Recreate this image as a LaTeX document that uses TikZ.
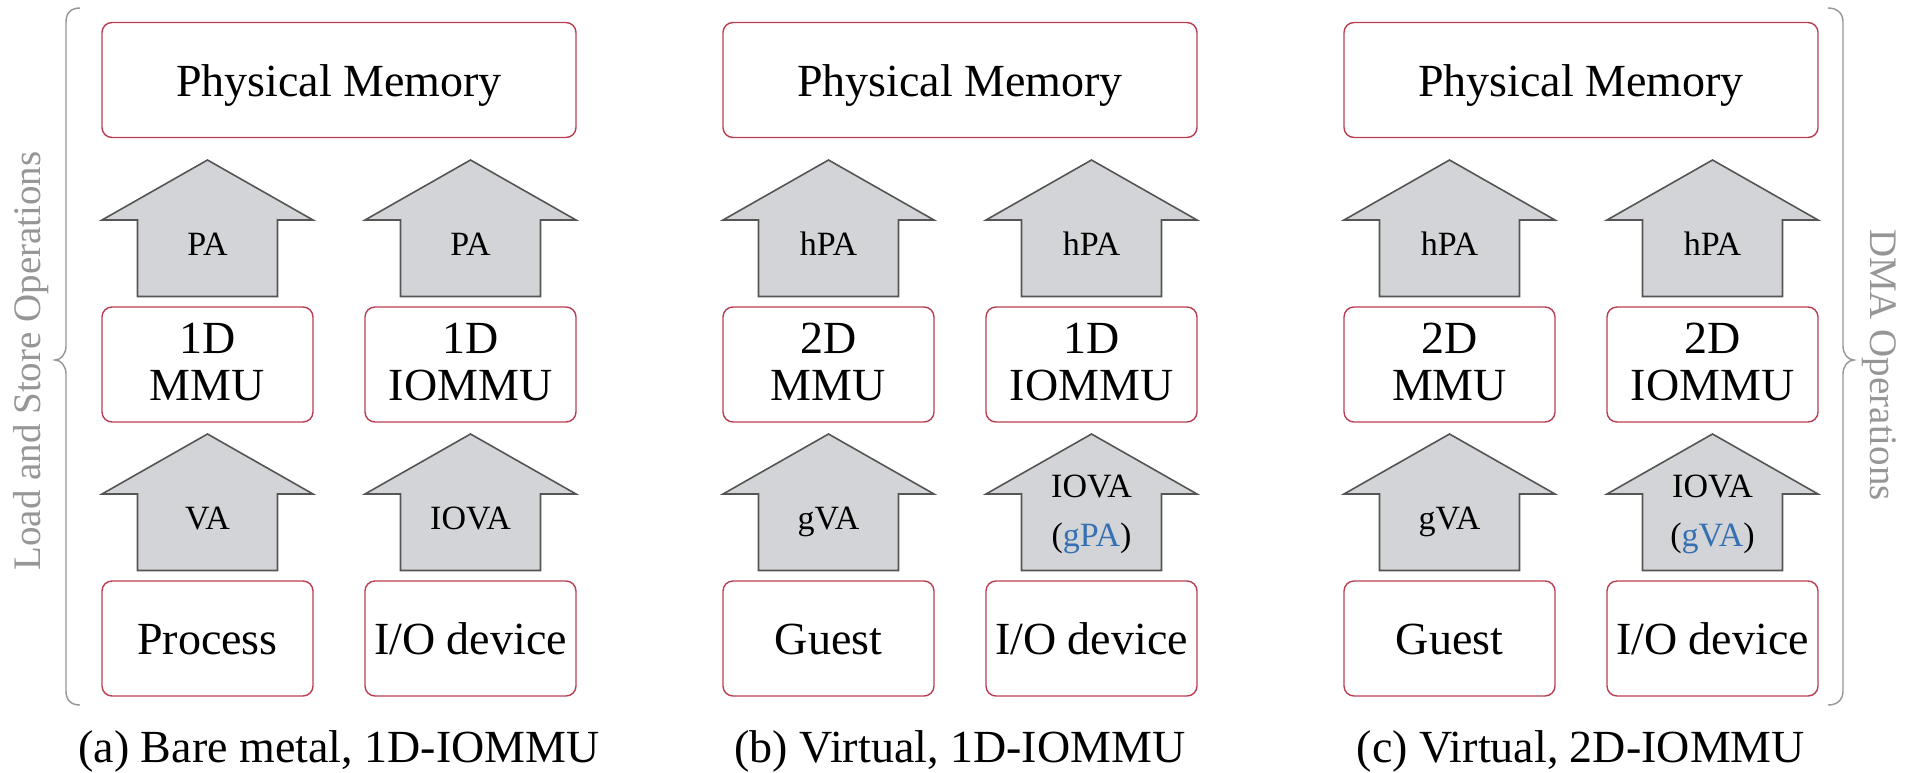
\documentclass[tikz,border=0pt]{standalone}
\usepackage{fontspec}
\setmainfont{Liberation Serif}
\definecolor{boxred}{RGB}{186,62,82}
\definecolor{arrowfill}{RGB}{211,212,215}
\definecolor{arrowline}{RGB}{85,85,85}
\definecolor{bracegray}{RGB}{150,150,150}
\definecolor{addrblue}{RGB}{52,112,178}
\tikzset{
  boxunit/.style={draw=boxred, line width=0.7pt, rounded corners=5pt, fill=white,
    inner sep=0pt, minimum height=57.5pt},
  boxwide/.style={boxunit, minimum width=237pt},
  boxnarrow/.style={boxunit, minimum width=105.5pt},
  txtbig/.style={font=\fontsize{23}{27}\selectfont, inner sep=0pt, anchor=base},
  txtsmall/.style={font=\fontsize{17}{20}\selectfont, inner sep=0pt, anchor=base},
  txtside/.style={font=\fontsize{19.5}{23}\selectfont, text=bracegray, inner sep=0pt,
    anchor=base},
  addrarrow/.style={fill=arrowfill, draw=arrowline, line width=0.8pt, line join=miter},
  bracepath/.style={draw=bracegray, line width=0.7pt},
  blockup/.pic={\path[addrarrow] (0,0) -- (105.5,60) -- (70,60) -- (70,136.5)
      -- (-70,136.5) -- (-70,60) -- (-105.5,60) -- cycle;}
}
\begin{document}
\begin{tikzpicture}[x=0.5pt,y=-0.5pt]
\fill[white] (0,0) rectangle (1912,772);
\useasboundingbox (0,0) rectangle (1912,772);

% boxes and address arrows of the three set-ups
\foreach \p/\X in {a/102,b/723,c/1344} {
  \node[boxwide]   (\p-pm)   at (\X+237,80) {};
  \node[boxnarrow] (\p-mmu)  at (\X+105.5,364.5) {};
  \node[boxnarrow] (\p-iommu) at (\X+368.5,364.5) {};
  \node[boxnarrow] (\p-cpu)  at (\X+105.5,638.5) {};
  \node[boxnarrow] (\p-dev)  at (\X+368.5,638.5) {};
  \pic at (\X+105.5,160) {blockup};
  \pic at (\X+368.5,160) {blockup};
  \pic at (\X+105.5,434) {blockup};
  \pic at (\X+368.5,434) {blockup};
}

% (a) bare metal
\node[txtbig] (a-pm-t) at ([yshift=-8pt]a-pm.center) {Physical Memory};
\node[txtbig] (a-mmu-t1) at ([yshift=5.75pt]a-mmu.center) {1D};
\node[txtbig] (a-mmu-t2) at ([yshift=-17.75pt]a-mmu.center) {MMU};
\node[txtbig] (a-iommu-t1) at ([yshift=5.75pt]a-iommu.center) {1D};
\node[txtbig] (a-iommu-t2) at ([yshift=-17.75pt]a-iommu.center) {IOMMU};
\node[txtbig] (a-cpu-t) at ([yshift=-7.75pt]a-cpu.center) {Process};
\node[txtbig] (a-dev-t) at ([yshift=-7.75pt]a-dev.center) {I/O device};
\node[txtsmall] (a-pa1) at (207.5,255) {PA};
\node[txtsmall] (a-pa2) at (470.5,255) {PA};
\node[txtsmall] (a-va) at (207.5,529) {VA};
\node[txtsmall] (a-iova) at (470.5,529) {IOVA};
\node[txtbig] (a-cap) at (339,762) {(a) Bare metal, 1D-IOMMU};

% (b) virtual machine, one-dimensional IOMMU
\node[txtbig] (b-pm-t) at ([yshift=-8pt]b-pm.center) {Physical Memory};
\node[txtbig] (b-mmu-t1) at ([yshift=5.75pt]b-mmu.center) {2D};
\node[txtbig] (b-mmu-t2) at ([yshift=-17.75pt]b-mmu.center) {MMU};
\node[txtbig] (b-iommu-t1) at ([yshift=5.75pt]b-iommu.center) {1D};
\node[txtbig] (b-iommu-t2) at ([yshift=-17.75pt]b-iommu.center) {IOMMU};
\node[txtbig] (b-cpu-t) at ([yshift=-7.75pt]b-cpu.center) {Guest};
\node[txtbig] (b-dev-t) at ([yshift=-7.75pt]b-dev.center) {I/O device};
\node[txtsmall] (b-pa1) at (828.5,255) {hPA};
\node[txtsmall] (b-pa2) at (1091.5,255) {hPA};
\node[txtsmall] (b-va) at (828.5,529) {gVA};
\node[txtsmall] (b-iova1) at (1091.5,497) {IOVA};
\node[txtsmall] (b-iova2) at (1091.5,546) {(\textcolor{addrblue}{gPA})};
\node[txtbig] (b-cap) at (960,762) {(b) Virtual, 1D-IOMMU};

% (c) virtual machine, two-dimensional IOMMU
\node[txtbig] (c-pm-t) at ([yshift=-8pt]c-pm.center) {Physical Memory};
\node[txtbig] (c-mmu-t1) at ([yshift=5.75pt]c-mmu.center) {2D};
\node[txtbig] (c-mmu-t2) at ([yshift=-17.75pt]c-mmu.center) {MMU};
\node[txtbig] (c-iommu-t1) at ([yshift=5.75pt]c-iommu.center) {2D};
\node[txtbig] (c-iommu-t2) at ([yshift=-17.75pt]c-iommu.center) {IOMMU};
\node[txtbig] (c-cpu-t) at ([yshift=-7.75pt]c-cpu.center) {Guest};
\node[txtbig] (c-dev-t) at ([yshift=-7.75pt]c-dev.center) {I/O device};
\node[txtsmall] (c-pa1) at (1449.5,255) {hPA};
\node[txtsmall] (c-pa2) at (1712.5,255) {hPA};
\node[txtsmall] (c-va) at (1449.5,529) {gVA};
\node[txtsmall] (c-iova1) at (1712.5,497) {IOVA};
\node[txtsmall] (c-iova2) at (1712.5,546) {(\textcolor{addrblue}{gVA})};
\node[txtbig] (c-cap) at (1581,762) {(c) Virtual, 2D-IOMMU};

% side braces and their labels
\draw[bracepath] (80,8) .. controls (71,8) and (66,13) .. (66,22) -- (66,346)
  .. controls (66,354) and (61,360) .. (55,360)
  .. controls (61,360) and (66,366) .. (66,374) -- (66,691)
  .. controls (66,700) and (71,705) .. (80,705);
\node[txtside, rotate=90] (ls-t) at (40,361) {Load and Store Operations};

\draw[bracepath] (1828,8) .. controls (1837,8) and (1843,13) .. (1843,22) -- (1843,346)
  .. controls (1843,354) and (1848,360) .. (1854,360)
  .. controls (1848,360) and (1843,366) .. (1843,374) -- (1843,691)
  .. controls (1843,700) and (1837,705) .. (1828,705);
\node[txtside, rotate=-90] (dma-t) at (1870,365) {DMA Operations};
\end{tikzpicture}
\end{document}
